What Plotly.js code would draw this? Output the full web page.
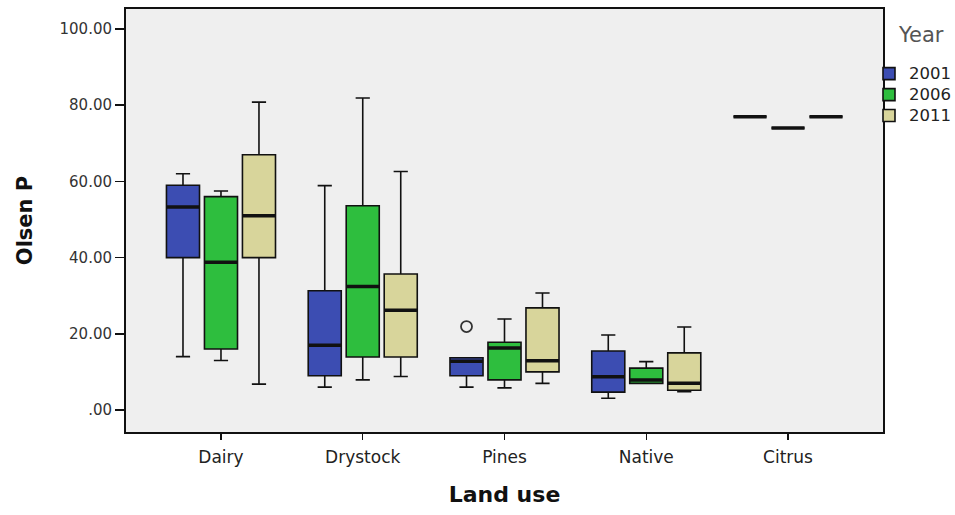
<!DOCTYPE html>
<html><head><meta charset="utf-8">
<script src="https://cdn.plot.ly/plotly-3.0.1.min.js"></script>
<style>html,body{margin:0;padding:0;background:#fff}#chart{width:955px;height:515px}</style>
</head><body><div id="chart"></div>
<script>
// Categories and series
const landUse = ['Dairy', 'Drystock', 'Pines', 'Native', 'Citrus'];
const years = ['2001', '2006', '2011'];
const colors = ['#3C4DB2', '#2EBE3E', '#D8D59B'];
const legendTitle = 'Year';

// Olsen P statistics per land use (Dairy, Drystock, Pines, Native, Citrus)
const lower2001 = [14.0, 6.0, 6.0, 3.1, 77.0];
const q1_2001   = [40.0, 9.0, 9.0, 4.7, 77.0];
const med2001   = [53.3, 17.0, 12.8, 8.7, 77.0];
const q3_2001   = [59.0, 31.3, 13.7, 15.5, 77.0];
const upper2001 = [62.0, 58.9, 13.7, 19.7, 77.0];

const lower2006 = [13.0, 7.9, 5.8, 7.0, 74.0];
const q1_2006   = [16.0, 13.9, 7.9, 7.0, 74.0];
const med2006   = [38.8, 32.4, 16.3, 7.9, 74.0];
const q3_2006   = [56.0, 53.6, 17.8, 11.0, 74.0];
const upper2006 = [57.5, 81.9, 23.9, 12.7, 74.0];

const lower2011 = [6.8, 8.8, 7.0, 4.8, 77.0];
const q1_2011   = [40.0, 13.9, 10.0, 5.2, 77.0];
const med2011   = [51.0, 26.2, 12.9, 7.0, 77.0];
const q3_2011   = [67.0, 35.7, 26.8, 15.0, 77.0];
const upper2011 = [80.8, 62.6, 30.7, 21.8, 77.0];

// Outliers (circle markers)
const outlierLandUse = [['Pines'], ['Pines'], ['Pines']];
const outlierValues  = [[21.9], [null], [null]];

const yTickVals = [0, 20, 40, 60, 80, 100];
const yTickText = ['.00', '20.00', '40.00', '60.00', '80.00', '100.00'];

const stats = [
  {lf: lower2001, q1: q1_2001, md: med2001, q3: q3_2001, uf: upper2001},
  {lf: lower2006, q1: q1_2006, md: med2006, q3: q3_2006, uf: upper2006},
  {lf: lower2011, q1: q1_2011, md: med2011, q3: q3_2011, uf: upper2011}
];

const FONT = 'DejaVu Sans, Arial, sans-serif';
const traces = [];
years.forEach((yr, i) => {
  const s = stats[i];
  traces.push({
    type: 'box', name: '<span style="font-size:16.5px">' + yr + '</span>', x: landUse,
    q1: s.q1, median: s.md, q3: s.q3, lowerfence: s.lf, upperfence: s.uf,
    boxpoints: false,
    fillcolor: colors[i], line: {color: '#111', width: 1.6},
    whiskerwidth: 0.43, alignmentgroup: 'a', offsetgroup: yr, legendgroup: yr,
    hoverinfo: 'skip'
  });
});
years.forEach((yr, i) => {
  const s = stats[i];
  traces.push({
    type: 'box', name: yr + ' median', x: landUse,
    q1: s.md, median: s.md, q3: s.md, lowerfence: s.md, upperfence: s.md,
    boxpoints: false, fillcolor: 'rgba(0,0,0,0)', line: {color: '#111', width: 3.5},
    whiskerwidth: 0, alignmentgroup: 'a', offsetgroup: yr, legendgroup: yr,
    showlegend: false, hoverinfo: 'skip'
  });
});
years.forEach((yr, i) => {
  traces.push({
    type: 'scatter', mode: 'markers', name: yr + ' outlier',
    x: outlierLandUse[i], y: outlierValues[i],
    marker: {symbol: 'circle-open', color: '#333', size: 11, line: {width: 1.8, color: '#333'}},
    alignmentgroup: 'a', offsetgroup: yr, orientation: 'v',
    showlegend: false, hoverinfo: 'skip', cliponaxis: false
  });
});

const layout = {
  width: 955, height: 515,
  margin: {l: 126, r: 72, t: 9, b: 83, autoexpand: false},
  paper_bgcolor: '#ffffff', plot_bgcolor: '#EFEFEF',
  font: {family: FONT, color: '#222'},
  boxmode: 'group', boxgap: 0.196, boxgroupgap: 0.13,
  scattermode: 'group', scattergap: 0.196,
  showlegend: true,
  legend: {
    x: 0.9815, xanchor: 'left', y: 0.8837, yanchor: 'top',
    bgcolor: 'rgba(0,0,0,0)', font: {family: FONT, size: 13.8, color: '#222'},
    tracegroupgap: 0, itemclick: false
  },
  annotations: [{
    text: legendTitle, xref: 'paper', yref: 'paper', x: 1.0832, y: 0.9385,
    xanchor: 'right', yanchor: 'middle', showarrow: false,
    font: {family: FONT, size: 21, color: '#555'}
  }],
  xaxis: {
    type: 'category', categoryorder: 'array', categoryarray: landUse,
    range: [-0.67, 4.67], showgrid: false, zeroline: false,
    showline: true, mirror: true, linecolor: '#111', linewidth: 2,
    ticks: 'outside', ticklen: 6, tickwidth: 1.5, tickcolor: '#111',
    ticklabelstandoff: 3,
    tickfont: {family: FONT, size: 17, color: '#222'},
    title: {text: 'Land use', font: {family: FONT, size: 22, color: '#111', weight: 'bold'}, standoff: 20}
  },
  yaxis: {
    range: [-5.77, 105.25], tickvals: yTickVals, ticktext: yTickText,
    showgrid: false, zeroline: false,
    showline: true, mirror: true, linecolor: '#111', linewidth: 2,
    ticks: 'outside', ticklen: 9, tickwidth: 1.5, tickcolor: '#111',
    tickfont: {family: FONT, size: 15, color: '#333'},
    title: {text: 'Olsen P', font: {family: FONT, size: 21, color: '#111', weight: 'bold'}, standoff: 21}
  }
};

Plotly.newPlot('chart', traces, layout, {displayModeBar: false, staticPlot: true});
</script>
</body></html>
